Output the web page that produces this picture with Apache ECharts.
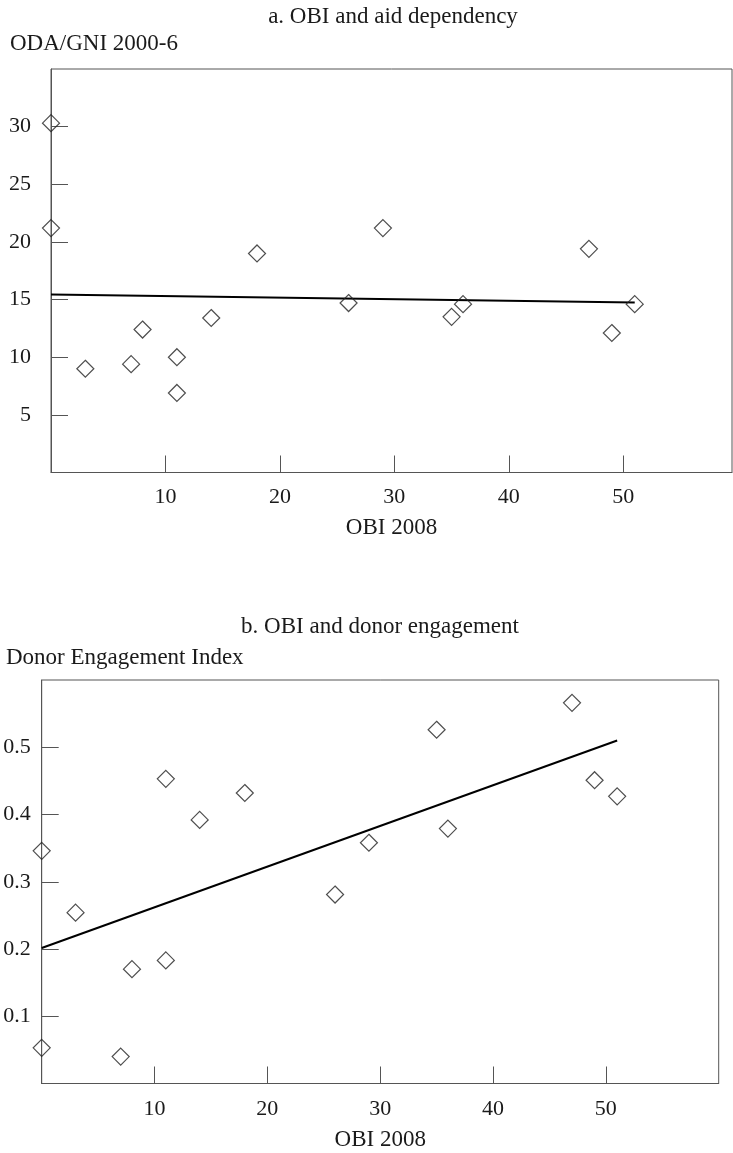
<!DOCTYPE html>
<html>
<head>
<meta charset="utf-8">
<script src="https://cdn.jsdelivr.net/npm/echarts@6/dist/echarts.min.js"></script>
<style>
html,body{margin:0;padding:0;background:#fff;}
#chart{width:733px;height:1153px;}
</style>
</head>
<body>
<div id="chart"></div>
<script>
// ---- Data ----
const obiA = [0, 0, 3, 7, 8, 11, 11, 14, 18, 26, 29, 35, 36, 47, 49, 51];
const odaA = [30.3, 21.2, 9.0, 9.4, 12.4, 10.0, 6.9, 13.4, 19.0, 14.7, 21.2, 13.5, 14.6, 19.4, 12.1, 14.6];
const trendAx = [0, 51];
const trendAy = [15.44, 14.75];

const obiB = [0, 0, 3, 7, 8, 11, 11, 14, 18, 26, 29, 35, 36, 47, 49, 51];
const deiB = [0.346, 0.053, 0.254, 0.040, 0.170, 0.453, 0.183, 0.392, 0.432, 0.281, 0.358, 0.526, 0.379, 0.566, 0.451, 0.427];
const trendBx = [0, 51];
const trendBy = [0.2015, 0.510];

const xTicks = [10, 20, 30, 40, 50];
const yTicksA = [5, 10, 15, 20, 25, 30];
const yTicksB = [0.1, 0.2, 0.3, 0.4, 0.5];

const titleA = 'a. OBI and aid dependency';
const titleB = 'b. OBI and donor engagement';
const yNameA = 'ODA/GNI 2000-6';
const yNameB = 'Donor Engagement Index';
const xName = 'OBI 2008';

// ---- Build options ----
const FONT = 'Liberation Serif';
const TXT = '#1a1a1a';
const AX = '#555';
const zip = (xs, ys) => xs.map((x, i) => [x, ys[i]]);

function xAxisCfg(grid, max, labelMargin, nameGap) {
  return {
    type: 'value', gridIndex: grid, min: 0, max: max, interval: 10,
    splitLine: {show: false},
    axisLine: {show: true, lineStyle: {color: AX, width: 1}},
    axisTick: {show: true, inside: true, length: 17, lineStyle: {color: AX, width: 1}, customValues: xTicks},
    axisLabel: {show: true, margin: labelMargin, fontFamily: FONT, fontSize: 22, color: TXT, customValues: xTicks},
    name: xName, nameLocation: 'middle', nameGap: nameGap,
    nameTextStyle: {fontFamily: FONT, fontSize: 23, color: TXT}
  };
}
function yAxisCfg(grid, max, interval, ticks, labelMargin) {
  return {
    type: 'value', gridIndex: grid, min: 0, max: max, interval: interval,
    splitLine: {show: false},
    axisLine: {show: true, lineStyle: {color: AX, width: 1}},
    axisTick: {show: true, inside: true, length: 17, lineStyle: {color: AX, width: 1}, customValues: ticks},
    axisLabel: {show: true, margin: labelMargin, fontFamily: FONT, fontSize: 22, color: TXT, customValues: ticks}
  };
}
const titleStyle = {fontFamily: FONT, fontSize: 23, fontWeight: 'normal', color: TXT};
const markerStyle = {color: 'rgba(255,255,255,0)', borderColor: '#222', borderWidth: 1.2};

const option = {
  animation: false,
  backgroundColor: '#fff',
  title: [
    {text: titleA, left: 393, top: 5, textAlign: 'center', padding: 0, textStyle: titleStyle},
    {text: yNameA, left: 10, top: 32, padding: 0, textStyle: titleStyle},
    {text: titleB, left: 380, top: 615, textAlign: 'center', padding: 0, textStyle: titleStyle},
    {text: yNameB, left: 6, top: 646, padding: 0, textStyle: titleStyle}
  ],
  grid: [
    {left: 51, top: 69, right: 1, height: 403.5, show: true, borderColor: AX, borderWidth: 1},
    {left: 41.7, top: 680, right: 14.3, height: 403.5, show: true, borderColor: AX, borderWidth: 1}
  ],
  xAxis: [xAxisCfg(0, 59.5, 14, 44), xAxisCfg(1, 60, 15, 45)],
  yAxis: [yAxisCfg(0, 35, 5, yTicksA, 20), yAxisCfg(1, 0.6, 0.1, yTicksB, 11)],
  series: [
    {type: 'line', xAxisIndex: 0, yAxisIndex: 0, data: zip(trendAx, trendAy), showSymbol: false,
     lineStyle: {color: '#000', width: 2}, z: 2},
    {type: 'scatter', xAxisIndex: 0, yAxisIndex: 0, data: zip(obiA, odaA), symbol: 'diamond',
     symbolSize: [17, 17], itemStyle: markerStyle, z: 3},
    {type: 'line', xAxisIndex: 1, yAxisIndex: 1, data: zip(trendBx, trendBy), showSymbol: false,
     lineStyle: {color: '#000', width: 2}, z: 2},
    {type: 'scatter', xAxisIndex: 1, yAxisIndex: 1, data: zip(obiB, deiB), symbol: 'diamond',
     symbolSize: [17, 17], itemStyle: markerStyle, z: 3}
  ]
};
const chart = echarts.init(document.getElementById('chart'), null, {renderer: 'canvas'});
chart.setOption(option);
</script>
</body>
</html>
